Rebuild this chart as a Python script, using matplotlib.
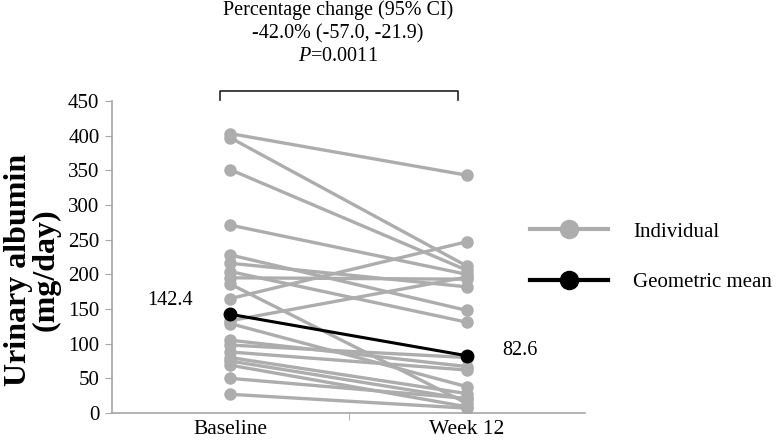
import matplotlib
matplotlib.use("Agg")
import matplotlib.pyplot as plt
from matplotlib.lines import Line2D

plt.rcParams["font.family"] = ["Liberation Serif", "DejaVu Serif"]
plt.rcParams["mathtext.fontset"] = "custom"
plt.rcParams["mathtext.it"] = "Liberation Serif:italic"
plt.rcParams["mathtext.rm"] = "Liberation Serif"

# ── 数据 ──────────────────────────────────────────────────────────────
visits = ["Baseline", "Week 12"]
baseline = [403, 397, 351, 271, 228, 216, 204, 195, 186, 165,
            133, 129, 105, 98, 88, 80, 75, 69, 50, 27]
week12 = [343, 212, 206, 200, 148, 182, 131, 193, 14, 247,
          196, 38, 67, 80, 62, 28, 20, 9, 21, 7]
geo_mean = [142.4, 82.6]
y_ticks = list(range(0, 451, 50))
annotation = ["Percentage change (95% CI)",
              "-42.0% (-57.0, -21.9)",
              "$P$=0.0011"]

GREY = "#adadad"
AXIS = "#a6a6a6"

fig = plt.figure(figsize=(7.77, 4.48), dpi=100)
ax = fig.add_axes([112 / 777, 1 - 413 / 448, 473 / 777, 312 / 448])

x = [0, 1]
for b, w in zip(baseline, week12):
    ax.plot(x, [b, w], color=GREY, lw=2.4, marker="o", ms=8,
            mec=GREY, mfc=GREY, zorder=2, solid_capstyle="butt")
ax.plot(x, geo_mean, color="black", lw=2.2, marker="o", ms=9,
        zorder=3)

ax.set_xlim(-0.5, 1.5)
ax.set_ylim(0, 450)
ax.set_yticks(y_ticks)
ax.set_xticks(x)
ax.set_xticklabels(visits)
ax.set_xticks([0.5], minor=True)
ax.tick_params(axis="x", which="major", length=0, labelsize=15.5, pad=5)
ax.tick_params(axis="x", which="minor", length=5, color=AXIS, direction="out")
ax.tick_params(axis="y", length=5, color=AXIS, labelsize=15, pad=4)
for s in ["top", "right"]:
    ax.spines[s].set_visible(False)
for s in ["left", "bottom"]:
    ax.spines[s].set_color(AXIS)
    ax.spines[s].set_linewidth(1.2)

ax.set_ylabel("Urinary albumin\n(mg/day)", fontsize=23, fontweight="bold",
              linespacing=0.95)
ax.yaxis.set_label_coords(-0.108, 0.46)

# 均值标签
ax.text(-0.255, geo_mean[0] + 20, f"{geo_mean[0]:.1f}", fontsize=14.5,
        ha="center", va="center")
ax.text(1.225, geo_mean[1] + 8, f"{geo_mean[1]:.1f}", fontsize=14.5,
        ha="center", va="center")

# 括号
bx0, bx1, btop, bbot = -0.043, 0.963, 465, 452
ax.plot([bx0, bx0, bx1, bx1], [bbot, btop, btop, bbot], color="#222222",
        lw=1.2, clip_on=False)

# 顶部注释
fig.text(338 / 777, 1 - 33 / 448, "\n".join(annotation), fontsize=14.5,
         ha="center", va="center", linespacing=1.3)

# 图例
handles = [
    Line2D([], [], color=GREY, lw=3, marker="o", ms=13, mfc=GREY, mec=GREY),
    Line2D([], [], color="black", lw=3, marker="o", ms=13),
]
ax.legend(handles, ["Individual", "Geometric mean"], loc="upper left",
          bbox_to_anchor=(530 / 777, 1 - 222 / 448),
          bbox_transform=fig.transFigure, frameon=False, fontsize=15,
          handlelength=3.75, handletextpad=1.2, labelspacing=1.5,
          borderpad=0, borderaxespad=0)

fig.savefig("out.png", dpi=100)
